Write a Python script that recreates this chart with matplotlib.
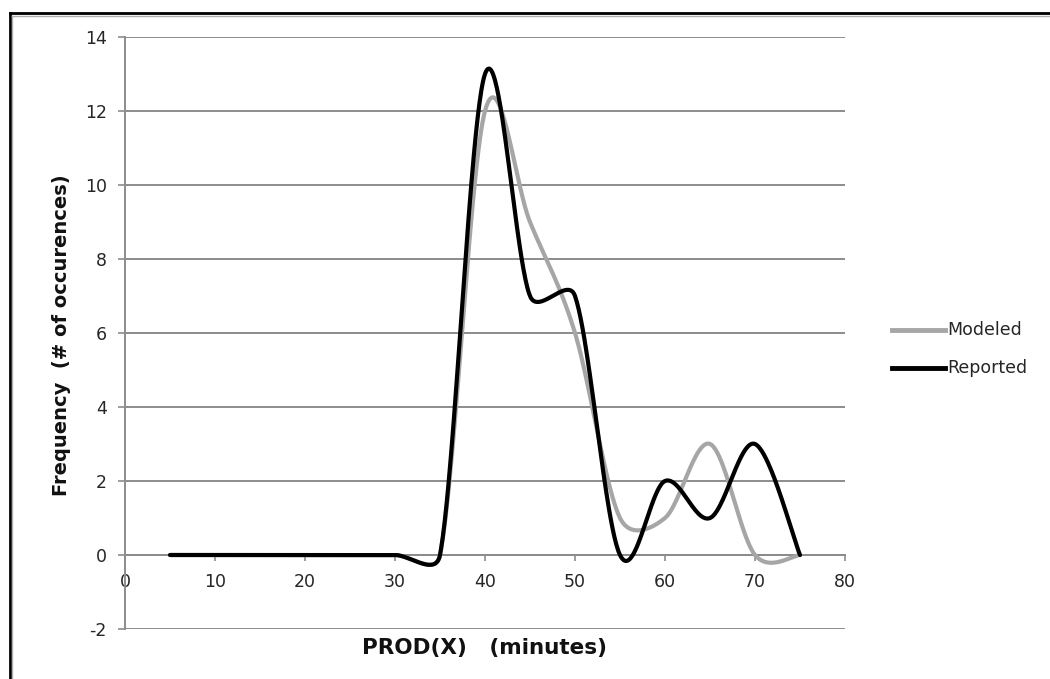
import numpy as np
import matplotlib
matplotlib.use("Agg")
import matplotlib.pyplot as plt
from matplotlib.lines import Line2D

# Production-time distribution (minutes) and frequencies
minutes = [5, 10, 15, 20, 25, 30, 35, 40, 45, 50, 55, 60, 65, 70, 75]
modeled = [0, 0, 0, 0, 0, 0, 0, 12, 9, 6, 1, 1, 3, 0, 0]
reported = [0, 0, 0, 0, 0, 0, 0, 13, 7, 7, 0, 2, 1, 3, 0]

series_names = ["Modeled", "Reported"]
series_colors = ["#a6a6a6", "#000000"]

x_ticks = [0, 10, 20, 30, 40, 50, 60, 70, 80]
y_ticks = [-2, 0, 2, 4, 6, 8, 10, 12, 14]


def smooth_curve(ax, xs, ys, steps=50):
    """Spreadsheet-style smoothed line: cubic Bezier segments through the
    points, control points built in screen space from the neighbours and
    limited to half of the segment length."""
    pts = ax.transData.transform(np.column_stack([xs, ys]).astype(float))
    n = len(pts)
    ext = np.vstack([pts[:1], pts, pts[-1:]])
    t = np.linspace(0, 1, steps)[:, None]
    out = []
    for i in range(n - 1):
        p_prev, p0, p3, p_next = ext[i], ext[i + 1], ext[i + 2], ext[i + 3]
        seg = np.hypot(*(p3 - p0))
        v1 = (p3 - p_prev) / 6.0
        v2 = (p_next - p0) / 6.0
        for v in (v1, v2):
            L = np.hypot(*v)
            if L > 0.5 * seg:
                v *= 0.5 * seg / L
        c1 = p0 + v1
        c2 = p3 - v2
        b = (1 - t) ** 3 * p0 + 3 * (1 - t) ** 2 * t * c1 \
            + 3 * (1 - t) * t ** 2 * c2 + t ** 3 * p3
        out.append(b if i == 0 else b[1:])
    out = ax.transData.inverted().transform(np.vstack(out))
    return out[:, 0], out[:, 1]


W, H = 1050, 679
fig = plt.figure(figsize=(W / 100, H / 100), dpi=100)
ax = fig.add_axes([125 / W, 1 - 629 / H, 720 / W, 592 / H])

grid_color = "#8c8c8c"
text_color = "#262626"

ax.set_xlim(0, 80)
ax.set_ylim(-2, 14)
ax.set_xticks(x_ticks)
ax.set_yticks(y_ticks)
ax.set_yticklabels([str(v) for v in y_ticks])
ax.set_xticklabels([str(v) for v in x_ticks])

for v in y_ticks:
    ax.axhline(v, color=grid_color, lw=1.4, zorder=1)

for s in ("top", "right"):
    ax.spines[s].set_visible(False)
ax.spines["left"].set_color(grid_color)
ax.spines["left"].set_linewidth(1.4)
ax.spines["bottom"].set_position(("data", 0))
ax.spines["bottom"].set_color(grid_color)
ax.spines["bottom"].set_linewidth(1.4)

ax.tick_params(axis="y", length=5, width=1.2, color=grid_color, pad=8,
               labelsize=12.5, labelcolor=text_color)
ax.tick_params(axis="x", length=4, width=1.2, color=grid_color, pad=9,
               labelsize=12.5, labelcolor=text_color, direction="out")
for lbl in ax.get_xticklabels() + ax.get_yticklabels():
    lbl.set_family("DejaVu Sans")

for ys, color, z in zip([modeled, reported], series_colors, [3, 4]):
    sx, sy = smooth_curve(ax, minutes, ys)
    ax.plot(sx, sy, color=color, lw=3.0, solid_capstyle="round",
            solid_joinstyle="round", zorder=z)

ax.set_xlabel("PROD(X)   (minutes)", fontsize=15.5, fontweight="bold",
              family="DejaVu Sans", color="#111111")
ax.xaxis.set_label_coords((485 - 125) / 720, (629 - 638) / 592,
                          transform=ax.transAxes)
ax.xaxis.label.set_va("top")
ax.set_ylabel("Frequency  (# of occurences)", fontsize=14, fontweight="bold",
              family="DejaVu Sans", color="#111111")
ax.yaxis.set_label_coords((71 - 125) / 720, (629 - 335) / 592)

# Legend on the right: line sample followed by the series name
for k, (name, color) in enumerate(zip(series_names, series_colors)):
    yf = 1 - (330 + 38 * k) / H
    fig.add_artist(Line2D([892 / W, 945 / W], [yf, yf], color=color, lw=3.5,
                          transform=fig.transFigure))
    fig.text(947 / W, yf, name, fontsize=12.5, family="DejaVu Sans",
             color=text_color, va="center", ha="left")

# Chart frame (top and left edges)
fig.add_artist(Line2D([9.5 / W, 1.0], [1 - 13 / H, 1 - 13 / H], color="black",
                      lw=2, transform=fig.transFigure))
fig.add_artist(Line2D([9.5 / W, 9.5 / W], [0, 1 - 13 / H], color="black",
                      lw=2, transform=fig.transFigure))
fig.add_artist(Line2D([11.5 / W, 1.0], [1 - 15.5 / H, 1 - 15.5 / H],
                      color="#b0b0b0", lw=1, transform=fig.transFigure))
fig.add_artist(Line2D([12 / W, 12 / W], [0, 1 - 15.5 / H], color="#b0b0b0",
                      lw=1, transform=fig.transFigure))

fig.savefig("out.png", dpi=100, facecolor="white")
